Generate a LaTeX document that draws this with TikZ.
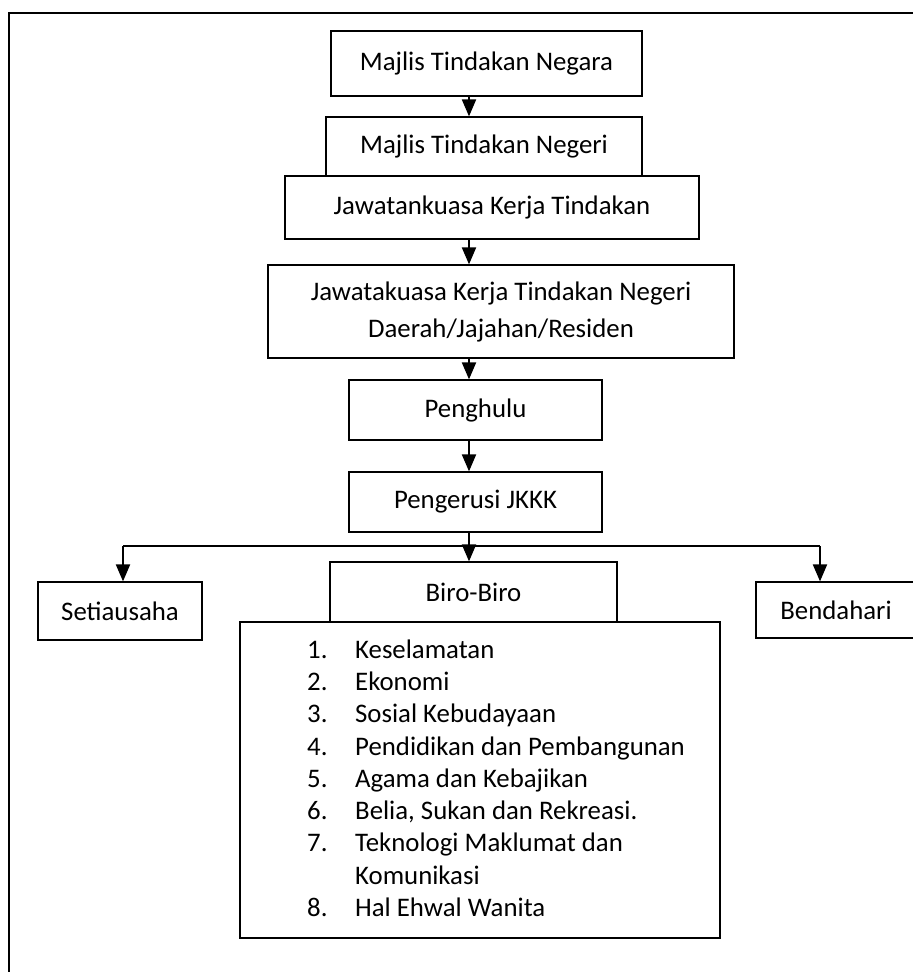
\documentclass[tikz,border=0pt]{standalone}
\usepackage{fontspec}
\setmainfont{Carlito}
\usetikzlibrary{arrows.meta}
\begin{document}
\begin{tikzpicture}[x=1pt,y=-1pt,
  box/.style={draw=black, line width=1.2pt, inner sep=0pt, font=\fontsize{26.8}{37}\selectfont, align=center},
  arr/.style={line width=2pt, -{Triangle[width=14pt,length=17pt]}},
  link/.style={line width=2pt},
  frame/.style={line width=2pt}]
\useasboundingbox (0,0) rectangle (913,972);
% outer frame
\coordinate (fbl) at (9,980);
\coordinate (ftl) at (9,13);
\coordinate (ftr) at (920,13);
\draw[frame] (fbl) -- (ftl) -- (ftr);
% axis of the main column
\coordinate (ax) at (469,0);
% boxes
\node[box, minimum width=311pt, minimum height=65pt] (b1) at (486.5,63.5) {Majlis Tindakan Negara};
\node[box, minimum width=316pt, minimum height=59pt] (b2) at (484,146.5) {Majlis Tindakan Negeri};
\node[box, minimum width=414pt, minimum height=63pt] (b3) at (492,207.5) {Jawatankuasa Kerja Tindakan};
\node[box, minimum width=466pt, minimum height=93pt] (b4) at (501,311.5) {Jawatakuasa Kerja Tindakan Negeri\\Daerah/Jajahan/Residen};
\node[box, minimum width=253pt, minimum height=60pt] (b5) at (475.5,410) {Penghulu};
\node[box, minimum width=253pt, minimum height=60pt] (b6) at (475.5,502) {Pengerusi JKKK};
\node[box, minimum width=164pt, minimum height=58pt] (sec) at (120,611) {Setiausaha};
\node[box, minimum width=287pt, minimum height=60pt] (biro) at (473.5,592) {Biro-Biro};
\node[box, minimum width=160pt, minimum height=56pt] (ben) at (836,610) {Bendahari};
\node[box, minimum width=480pt, minimum height=316pt] (list) at (480,780) {};
\node[anchor=west, inner sep=0pt, font=\fontsize{26.8}{32.25}\selectfont] (items) at (307,781)
  {\begin{tabular}{@{}p{48pt}@{}l@{}}
   1. & Keselamatan\\
   2. & Ekonomi\\
   3. & Sosial Kebudayaan\\
   4. & Pendidikan dan Pembangunan\\
   5. & Agama dan Kebajikan\\
   6. & Belia, Sukan dan Rekreasi.\\
   7. & Teknologi Maklumat dan\\
      & Komunikasi\\
   8. & Hal Ehwal Wanita
   \end{tabular}};
% connectors
\draw[arr] (b1.south -| ax) -- (b2.north -| ax);
\draw[arr] (b3.south -| ax) -- (b4.north -| ax);
\draw[arr] (b4.south -| ax) -- (b5.north -| ax);
\draw[arr] (b5.south -| ax) -- (b6.north -| ax);
\coordinate (hl) at (123,546);
\coordinate (hr) at (820,546);
\draw[link] (b6.south -| ax) -- (hl -| ax);
\draw[link] (hl) -- (hr);
\draw[arr] (hl) -- (hl |- sec.north);
\draw[arr] (hr) -- (hr |- ben.north);
\draw[arr] (hl -| ax) -- (biro.north -| ax);
\end{tikzpicture}
\end{document}
